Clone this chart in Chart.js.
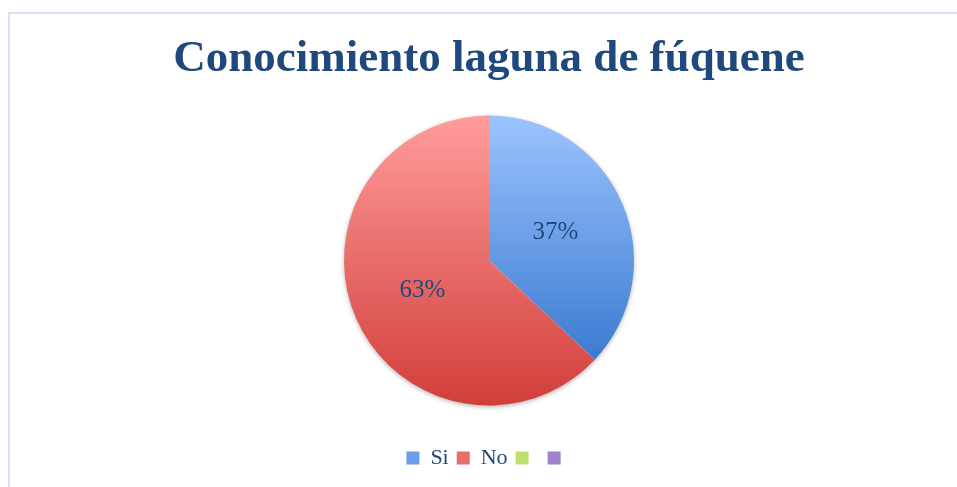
<!DOCTYPE html>
<html>
<head>
<meta charset="utf-8">
<script src="https://cdn.jsdelivr.net/npm/chart.js@4.4.0/dist/chart.umd.min.js"></script>
<style>
  html, body { margin: 0; padding: 0; background: #fff; overflow: hidden; }
  #frame { position: absolute; left: 8px; top: 12px; width: 1000px; height: 600px; border: 2px solid #d6e3f4; }
  #wrap { position: absolute; left: 0; top: 0; width: 957px; height: 487px; }
</style>
</head>
<body>
<div id="frame"></div>
<div id="wrap"><canvas id="pie"></canvas></div>
<script>
// Data
const categories = ['Si', 'No', '', ''];
const values = [37, 63, 0, 0];

// gradient stops (top, bottom) per slice
const topColors = ['#9cc3ff', '#ff9c9a', '#dcf79f', '#c6abeb'];
const bottomColors = ['#3b7bcf', '#d13e3a', '#9bc33f', '#7c5aad'];
const legendColors = ['#6a9ee8', '#e86e6b', '#bddf6e', '#a182cf'];

const textColor = '#1f497d';
const serif = "'Liberation Serif', 'DejaVu Serif', serif";

// vertical extent of one arc, for its gradient
function arcExtent(el) {
  let minY = el.y, maxY = el.y;
  const steps = 60;
  for (let i = 0; i <= steps; i++) {
    const a = el.startAngle + (el.endAngle - el.startAngle) * i / steps;
    const y = el.y + Math.sin(a) * el.outerRadius;
    minY = Math.min(minY, y);
    maxY = Math.max(maxY, y);
  }
  return [minY, maxY];
}

const gradientPlugin = {
  id: 'sliceGradients',
  beforeDatasetsDraw(chart) {
    const ctx = chart.ctx;
    const meta = chart.getDatasetMeta(0);
    // soft shadow behind the pie
    const first = meta.data[0];
    ctx.save();
    ctx.shadowColor = 'rgba(0,0,0,0.35)';
    ctx.shadowBlur = 5;
    ctx.shadowOffsetY = 1.5;
    ctx.beginPath();
    ctx.arc(first.x, first.y, first.outerRadius - 0.5, 0, Math.PI * 2);
    ctx.fillStyle = '#fff';
    ctx.fill();
    ctx.restore();

    meta.data.forEach((el, i) => {
      const [y0, y1] = arcExtent(el);
      const g = ctx.createLinearGradient(0, y0, 0, Math.max(y1, y0 + 1));
      g.addColorStop(0, topColors[i]);
      g.addColorStop(1, bottomColors[i]);
      el.options.backgroundColor = g;
    });
  }
};

const percentPlugin = {
  id: 'percentLabels',
  afterDatasetsDraw(chart) {
    const ctx = chart.ctx;
    const meta = chart.getDatasetMeta(0);
    const total = values.reduce((a, b) => a + b, 0);
    ctx.save();
    ctx.font = '25px ' + serif;
    ctx.fillStyle = textColor;
    ctx.textAlign = 'center';
    ctx.textBaseline = 'middle';
    meta.data.forEach((el, i) => {
      if (!values[i]) return;
      const p = el.tooltipPosition();
      ctx.fillText(Math.round(values[i] / total * 100) + '%', p.x, p.y + 1);
    });
    ctx.restore();
  }
};

const chart = new Chart(document.getElementById('pie'), {
  type: 'pie',
  data: {
    labels: categories,
    datasets: [{
      data: values,
      backgroundColor: legendColors,
      borderWidth: 0,
      radius: 145
    }]
  },
  options: {
    responsive: true,
    maintainAspectRatio: false,
    animation: false,
    layout: { padding: { top: 0, bottom: 8, left: 21, right: 0 } },
    plugins: {
      title: {
        display: true,
        text: 'Conocimiento laguna de fúquene',
        color: textColor,
        font: { family: serif, size: 45, weight: 'bold', lineHeight: 1.0 },
        padding: { top: 37, bottom: 0 }
      },
      legend: {
        position: 'bottom',
        labels: {
          color: textColor,
          font: { family: serif, size: 22 },
          boxWidth: 13,
          boxHeight: 13,
          padding: 8
        }
      },
      tooltip: { enabled: false }
    }
  },
  plugins: [gradientPlugin, percentPlugin]
});
</script>
</body>
</html>
